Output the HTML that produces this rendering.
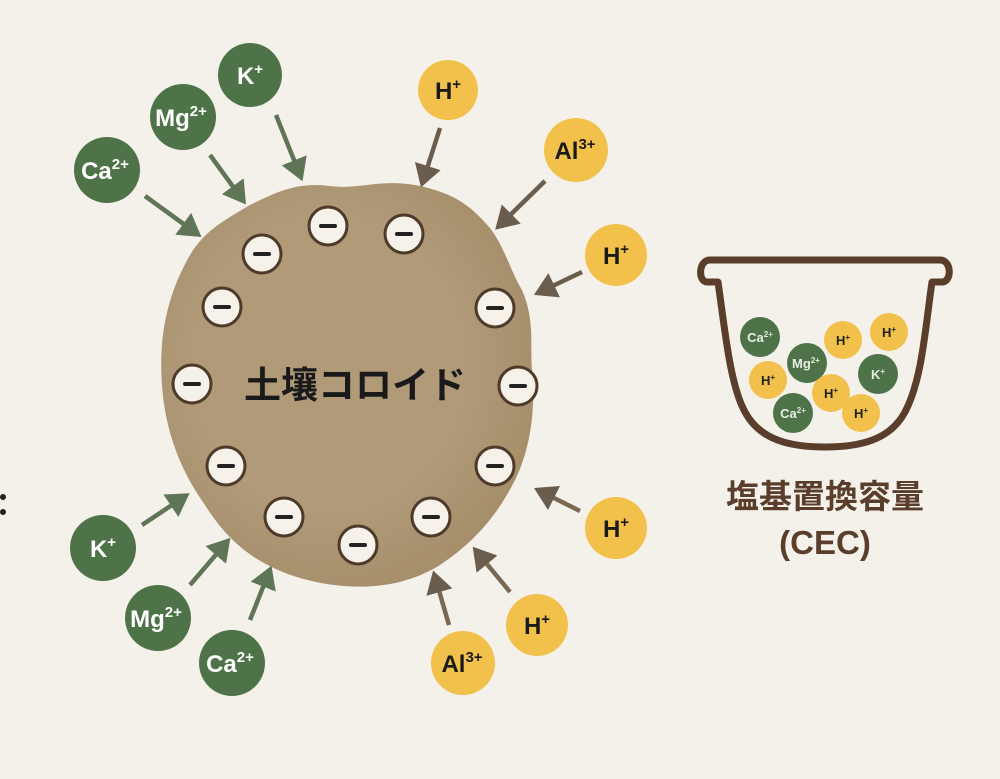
<!DOCTYPE html><html><head><meta charset="utf-8"><style>
body{margin:0;background:#f4f1ea;}
svg{display:block}
text{font-family:"Liberation Sans","Noto Sans CJK JP",sans-serif;font-weight:bold;}
</style></head><body>
<svg width="1000" height="779" viewBox="0 0 1000 779" xmlns="http://www.w3.org/2000/svg">
<defs>
<marker id="ag" markerWidth="6" markerHeight="6" refX="3.5" refY="3" orient="auto" markerUnits="strokeWidth"><path d="M0,0 L5,3 L0,6 Z" fill="#5f7556"/></marker>
<marker id="ab" markerWidth="6" markerHeight="6" refX="3.5" refY="3" orient="auto" markerUnits="strokeWidth"><path d="M0,0 L5,3 L0,6 Z" fill="#6a5d4e"/></marker>
<radialGradient id="bg" cx="0.45" cy="0.45" r="0.6"><stop offset="0.6" stop-color="#b09a78"/><stop offset="1" stop-color="#a58d69"/></radialGradient>
</defs>
<rect width="1000" height="779" fill="#f4f1ea"/>
<circle cx="3" cy="497" r="3" fill="#222"/><circle cx="3" cy="512" r="3" fill="#222"/>
<path d="M250,205 C280,190 300,182 330,186 C360,190 380,178 420,186 C455,194 470,205 490,228 C505,248 510,270 522,290 C535,320 530,345 532,370 C536,410 530,450 515,480 C495,520 470,545 440,565 C400,590 350,592 300,578 C260,566 230,545 205,505 C180,470 165,430 162,385 C158,330 170,290 190,255 C205,230 225,220 250,205 Z" fill="url(#bg)"/>
<g stroke="#4e3a2a" stroke-width="3" fill="#f6f2ea">
<circle cx="328" cy="226" r="19"/><circle cx="404" cy="234" r="19"/><circle cx="262" cy="254" r="19"/><circle cx="222" cy="307" r="19"/><circle cx="495" cy="308" r="19"/><circle cx="192" cy="384" r="19"/><circle cx="518" cy="386" r="19"/><circle cx="226" cy="466" r="19"/><circle cx="495" cy="466" r="19"/><circle cx="284" cy="517" r="19"/><circle cx="431" cy="517" r="19"/><circle cx="358" cy="545" r="19"/>
</g>
<g stroke="#222" stroke-width="4" stroke-linecap="round">
<line x1="321" y1="226" x2="335" y2="226"/><line x1="397" y1="234" x2="411" y2="234"/><line x1="255" y1="254" x2="269" y2="254"/><line x1="215" y1="307" x2="229" y2="307"/><line x1="488" y1="308" x2="502" y2="308"/><line x1="185" y1="384" x2="199" y2="384"/><line x1="511" y1="386" x2="525" y2="386"/><line x1="219" y1="466" x2="233" y2="466"/><line x1="488" y1="466" x2="502" y2="466"/><line x1="277" y1="517" x2="291" y2="517"/><line x1="424" y1="517" x2="438" y2="517"/><line x1="351" y1="545" x2="365" y2="545"/>
</g>
<text x="355" y="398" font-size="37" text-anchor="middle" fill="#1a1a1a">土壤コロイド</text>
<g stroke-width="4.5" fill="none">
<line x1="145" y1="196" x2="196" y2="233" stroke="#5f7556" marker-end="url(#ag)"/>
<line x1="210" y1="155" x2="242" y2="199" stroke="#5f7556" marker-end="url(#ag)"/>
<line x1="276" y1="115" x2="300" y2="175" stroke="#5f7556" marker-end="url(#ag)"/>
<line x1="142" y1="525" x2="184" y2="497" stroke="#5f7556" marker-end="url(#ag)"/>
<line x1="190" y1="585" x2="226" y2="543" stroke="#5f7556" marker-end="url(#ag)"/>
<line x1="250" y1="620" x2="269" y2="572" stroke="#5f7556" marker-end="url(#ag)"/>
<line x1="440" y1="128" x2="423" y2="181" stroke="#6a5d4e" marker-end="url(#ab)"/>
<line x1="545" y1="181" x2="500" y2="225" stroke="#6a5d4e" marker-end="url(#ab)"/>
<line x1="582" y1="272" x2="540" y2="292" stroke="#6a5d4e" marker-end="url(#ab)"/>
<line x1="580" y1="511" x2="540" y2="491" stroke="#7a6852" marker-end="url(#ab)"/>
<line x1="510" y1="592" x2="477" y2="552" stroke="#7a6852" marker-end="url(#ab)"/>
<line x1="449" y1="625" x2="435" y2="577" stroke="#7a6852" marker-end="url(#ab)"/>
</g>
<g fill="#4f7348">
<circle cx="250" cy="75" r="32"/><circle cx="183" cy="117" r="33"/><circle cx="107" cy="170" r="33"/>
<circle cx="103" cy="548" r="33"/><circle cx="158" cy="618" r="33"/><circle cx="232" cy="663" r="33"/>
</g>
<g fill="#f2c14c">
<circle cx="448" cy="90" r="30"/><circle cx="576" cy="150" r="32"/><circle cx="616" cy="255" r="31"/>
<circle cx="616" cy="528" r="31"/><circle cx="537" cy="625" r="31"/><circle cx="463" cy="663" r="32"/>
</g>
<g fill="#fff" font-size="24" text-anchor="middle" style="font-weight:600">
<text x="250" y="84">K<tspan font-size="15" dy="-10">+</tspan></text>
<text x="181" y="126">Mg<tspan font-size="15" dy="-10">2+</tspan></text>
<text x="105" y="179">Ca<tspan font-size="15" dy="-10">2+</tspan></text>
<text x="103" y="557">K<tspan font-size="15" dy="-10">+</tspan></text>
<text x="156" y="627">Mg<tspan font-size="15" dy="-10">2+</tspan></text>
<text x="230" y="672">Ca<tspan font-size="15" dy="-10">2+</tspan></text>
</g>
<g fill="#1a1a1a" font-size="24" text-anchor="middle">
<text x="448" y="99">H<tspan font-size="15" dy="-10">+</tspan></text>
<text x="575" y="159">Al<tspan font-size="15" dy="-10">3+</tspan></text>
<text x="616" y="264">H<tspan font-size="15" dy="-10">+</tspan></text>
<text x="616" y="537">H<tspan font-size="15" dy="-10">+</tspan></text>
<text x="537" y="634">H<tspan font-size="15" dy="-10">+</tspan></text>
<text x="462" y="672">Al<tspan font-size="15" dy="-10">3+</tspan></text>
</g>
<path d="M718,282 L707,282 C698,282 698,260 710,260 L940,260 C952,260 952,282 942,282 L932,282 C925,330 922,380 905,412 C890,440 860,447 825,447 C790,447 760,440 745,412 C730,385 725,330 718,282 Z" fill="none" stroke="#5a3e2b" stroke-width="7" stroke-linejoin="round"/>
<g fill="#4f7348"><circle cx="760" cy="337" r="20"/><circle cx="807" cy="363" r="20"/><circle cx="878" cy="374" r="20"/><circle cx="793" cy="413" r="20"/></g>
<g fill="#f2c14c"><circle cx="843" cy="340" r="19"/><circle cx="889" cy="332" r="19"/><circle cx="768" cy="380" r="19"/><circle cx="831" cy="393" r="19"/><circle cx="861" cy="413" r="19"/></g>
<g font-size="13" text-anchor="middle">
<text x="760" y="342" fill="#e8eee4">Ca<tspan font-size="8" dy="-5">2+</tspan></text>
<text x="806" y="368" fill="#e8eee4">Mg<tspan font-size="8" dy="-5">2+</tspan></text>
<text x="878" y="379" fill="#e8eee4">K<tspan font-size="8" dy="-5">+</tspan></text>
<text x="793" y="418" fill="#e8eee4">Ca<tspan font-size="8" dy="-5">2+</tspan></text>
<text x="843" y="345" fill="#222">H<tspan font-size="8" dy="-5">+</tspan></text>
<text x="889" y="337" fill="#222">H<tspan font-size="8" dy="-5">+</tspan></text>
<text x="768" y="385" fill="#222">H<tspan font-size="8" dy="-5">+</tspan></text>
<text x="831" y="398" fill="#222">H<tspan font-size="8" dy="-5">+</tspan></text>
<text x="861" y="418" fill="#222">H<tspan font-size="8" dy="-5">+</tspan></text>
</g>
<text x="825" y="508" font-size="33" text-anchor="middle" fill="#5a3e2b">塩基置換容量</text>
<text x="825" y="554" font-size="33" text-anchor="middle" fill="#5a3e2b">(CEC)</text>
</svg>
</body></html>
